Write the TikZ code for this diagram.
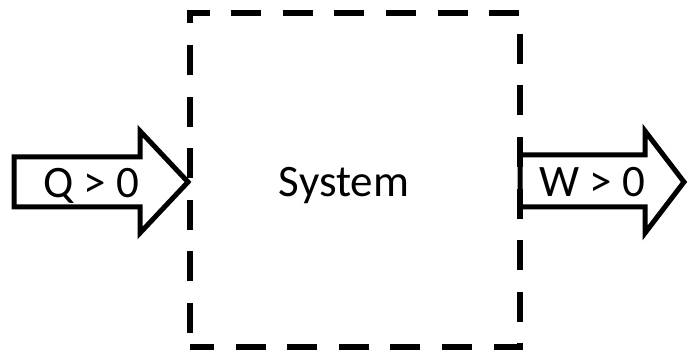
\documentclass[tikz,border=0pt]{standalone}
\usepackage{fontspec}
\setmainfont{Carlito}
\usetikzlibrary{positioning}
\colorlet{boundaryLine}{black}
\colorlet{arrowLine}{black}
\tikzstyle{systemBoundary}=[draw=boundaryLine,line width=6pt,dash pattern=on 30pt off 21.6pt,dash phase=37.6pt]
\tikzstyle{flowArrow}=[draw=arrowLine,fill=white,line width=5pt,line join=miter]
\tikzstyle{flowLabel}=[anchor=base,inner sep=0pt,font=\fontsize{45}{54}\selectfont]

\begin{document}
\begin{tikzpicture}[x=1pt,y=-1pt]
\useasboundingbox (0,0) rectangle (689,352);
        % heat going in
        \draw[flowArrow] (14,157) -- (140,157) -- (140,131) -- (188,182)
                -- (140,233) -- (140,207) -- (14,207) -- cycle;
        % work going out
        \draw[flowArrow] (520,155) -- (645,155) -- (645,131) -- (684,182)
                -- (645,233) -- (645,207) -- (520,207) -- cycle;
        % boundary of the system
        \draw[systemBoundary] (190,347) -- (190,13) -- (520,13)
                -- (520,347) -- cycle;
        \node[flowLabel] (system) 
        at (344,197) 
        {System};
        \node[flowLabel] (heat) 
        at (91,198) 
        {Q > 0};
        \node[flowLabel] (work) 
        at (592,197) 
        {W > 0};
\end{tikzpicture}
\end{document}
